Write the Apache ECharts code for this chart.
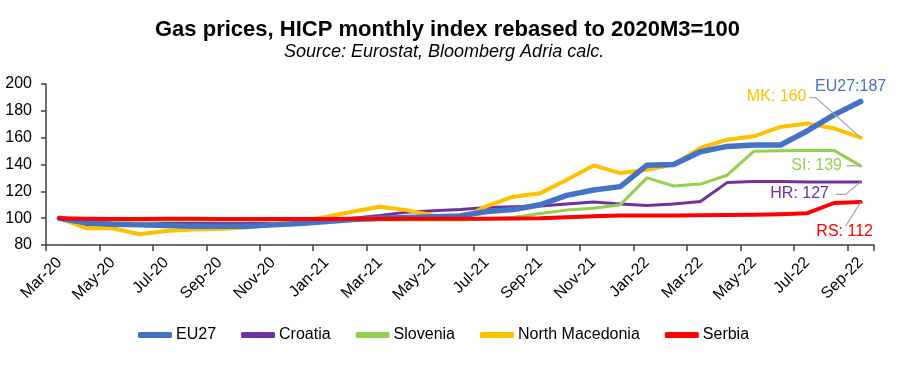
<!DOCTYPE html>
<html><head><meta charset="utf-8">
<script src="https://cdn.jsdelivr.net/npm/echarts@6/dist/echarts.min.js"></script>
<style>html,body{margin:0;padding:0;background:#fff}#c{width:900px;height:386px}</style>
</head><body><div id="c"></div>
<script>
const months = ['Mar-20','Apr-20','May-20','Jun-20','Jul-20','Aug-20','Sep-20','Oct-20','Nov-20','Dec-20',
  'Jan-21','Feb-21','Mar-21','Apr-21','May-21','Jun-21','Jul-21','Aug-21','Sep-21','Oct-21','Nov-21','Dec-21',
  'Jan-22','Feb-22','Mar-22','Apr-22','May-22','Jun-22','Jul-22','Aug-22','Sep-22'];
const eu27 = [100,96.5,95.5,95,94.5,94,94,94,95,96,97.5,99,100,100.5,101,101.7,105,106.5,110,117,121,123.5,
  139.5,140,149.5,153.5,154.5,154.5,165,177,187];
const croatia = [100,95,95,95.5,96,96,96,96,96,96.5,98,100,102,104.5,105.5,106.5,108,108.5,109,110.5,112,110.5,
  109.5,110.5,112.4,126.5,127.3,127.3,127,127,127];
const slovenia = [100,98.5,98.5,98.5,98.5,98.5,98.5,98.5,98.5,98.5,98.5,98.5,98.7,98.7,98.7,98.7,99.5,100.5,
  103.5,106,107.4,110,130,124,125.4,132,149.8,150.2,150.5,150.5,139];
const northMacedonia = [100,92.5,92.5,88,90.5,91.5,92,93,95.5,97.5,101,105,108.5,106,102,99,109,116,118.5,
  128.6,139.3,133.6,136,140,152.3,158.5,161,168,170.5,167,160];
const serbia = [100,99.5,99.3,99.3,99.5,99.5,99.3,99.3,99.3,99.3,99.3,99.5,99.5,99.5,99.5,99.5,99.5,99.8,100,
  100.7,101.5,102,102,102,102.2,102.4,102.6,103,103.7,111.3,112];
const seriesNames = ['EU27','Croatia','Slovenia','North Macedonia','Serbia'];
const endLabels = ['EU27:187','MK: 160','SI: 139','HR: 127','RS: 112'];
const yTicks = [80,100,120,140,160,180,200];

const FONT = "'Liberation Sans', Arial, sans-serif";
const colors = {EU27:'#4472C4', Croatia:'#7030A0', Slovenia:'#92D050', 'North Macedonia':'#FFC000', Serbia:'#FF0000'};

function mk(name, data, width, text, dx, dy, z) {
  const color = colors[name];
  const d = data.map((v, i) => i === data.length - 1
    ? {value: v, label: {show: true, formatter: text}}
    : v);
  return {
    name, type: 'line', data: d, z,
    showSymbol: true, symbol: 'circle', symbolSize: 0,
    lineStyle: {color, width, cap: 'round', join: 'round'},
    itemStyle: {color},
    label: {show: false, position: 'inside', color, fontSize: 16, fontFamily: FONT},
    labelLayout: {dx, dy},
    emphasis: {disabled: true},
    animation: false
  };
}

const chart = echarts.init(document.getElementById('c'), null, {renderer: 'canvas'});
chart.setOption({
  animation: false,
  backgroundColor: '#fff',
  title: [
    {text: 'Gas prices, HICP monthly index rebased to 2020M3=100', left: 150, top: 14,
     textStyle: {fontFamily: FONT, fontSize: 22, fontWeight: 'bold', color: '#000'}},
    {text: 'Source: Eurostat, Bloomberg Adria calc.', left: 279, top: 38,
     textStyle: {fontFamily: FONT, fontSize: 18, fontStyle: 'italic', fontWeight: 'normal', color: '#000'}}
  ],
  legend: {
    data: seriesNames, left: 138, top: 327, padding: 0, itemWidth: 34, itemHeight: 6, itemGap: 25,
    icon: 'roundRect',
    textStyle: {fontFamily: FONT, fontSize: 16, color: '#000', padding: [0,0,0,-1]}
  },
  grid: {left: 46, right: 26, top: 84, bottom: 141, containLabel: false},
  xAxis: {
    type: 'category', data: months, boundaryGap: true,
    axisLine: {lineStyle: {color: '#404040', width: 1.5}},
    axisTick: {show: true, interval: 1, length: 6, lineStyle: {color: '#404040', width: 1.5}},
    axisLabel: {interval: 1, rotate: 45, fontFamily: FONT, fontSize: 16, color: '#000', margin: 15},
    splitLine: {show: false}
  },
  yAxis: {
    type: 'value', min: yTicks[0], max: yTicks[yTicks.length-1], interval: 20,
    axisLine: {show: true, lineStyle: {color: '#404040', width: 1.5}},
    axisTick: {show: true, length: 5, lineStyle: {color: '#404040', width: 1.5}},
    axisLabel: {fontFamily: FONT, fontSize: 16, color: '#000', margin: 14},
    splitLine: {show: false}
  },
  series: [
    mk('EU27', eu27, 5.5, endLabels[0], -10, -15, 4),
    mk('Croatia', croatia, 3, endLabels[3], -61, 12, 2),
    mk('Slovenia', slovenia, 3, endLabels[2], -44, 0, 2),
    mk('North Macedonia', northMacedonia, 4, endLabels[1], -84, -41, 3),
    mk('Serbia', serbia, 4, endLabels[4], -16, 30, 5)
  ]
});

// leader lines from each series' last point toward its label (pixel offsets)
const last = months.length - 1;
const leaders = [
  {si: 3, vals: northMacedonia, pts: [[0,0],[-45,-40],[-51,-40]]},
  {si: 2, vals: slovenia, pts: [[0,0],[-14,0]]},
  {si: 1, vals: croatia, pts: [[0,0],[-15,12.5],[-25,12.5]]},
  {si: 4, vals: serbia, pts: [[0,0],[-15,24]]}
];
const g = leaders.map(l => {
  const p = chart.convertToPixel({seriesIndex: l.si}, [last, l.vals[last]]);
  return {type: 'polyline', z: 10, silent: true,
    shape: {points: l.pts.map(o => [p[0] + o[0], p[1] + o[1]])},
    style: {stroke: '#a6a6a6', lineWidth: 1.2, fill: null}};
});
chart.setOption({graphic: g});
</script>
</body></html>
